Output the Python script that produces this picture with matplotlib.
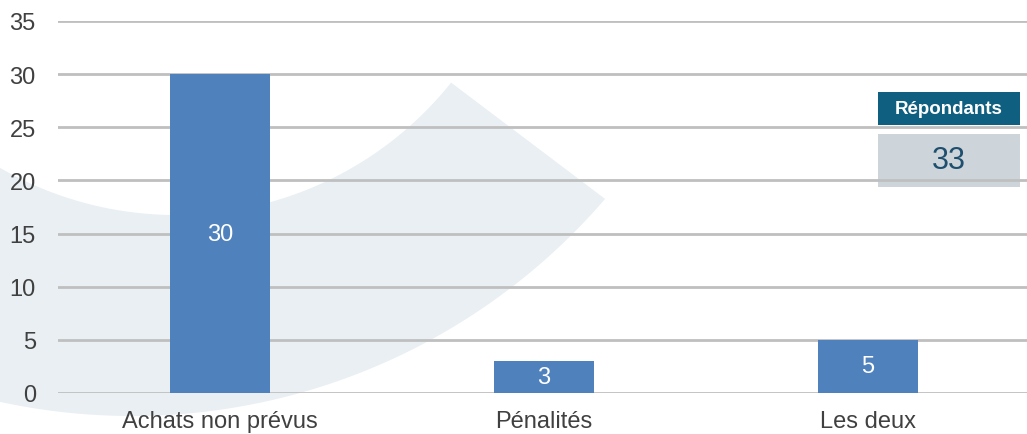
#!/usr/bin/env python3
import numpy as np
import matplotlib

matplotlib.use("Agg")
import matplotlib.pyplot as plt
from matplotlib.patches import Polygon, Rectangle
from matplotlib.transforms import IdentityTransform

CATEGORIES = ["Achats non prévus", "Pénalités", "Les deux"]
VALUES = [30, 3, 5]
Y_TICKS = [0, 5, 10, 15, 20, 25, 30, 35]
RESP_LABEL = "Répondants"
RESP_COUNT = "33"

W, H = 1027, 435
BAR_COLOR = "#4F81BD"
GRID_COLOR = "#BFBFBF"
TEXT_COLOR = "#404040"

plt.rcParams["font.family"] = ["Liberation Sans", "DejaVu Sans"]

fig = plt.figure(figsize=(W / 100, H / 100), dpi=100)
fig.patch.set_facecolor("white")


def arc(cx, cy, r, a0, a1, n=120):
    # arc in image pixel coords (y down), returned in display coords (y up)
    t = np.radians(np.linspace(a0, a1, n))
    return np.column_stack([cx + r * np.cos(t), H - (cy + r * np.sin(t))])


# light watermark swoosh behind the chart
outer = arc(132, -207, 624, 40.7, 135)
inner = arc(176, -136, 352, 135, 38.6)
swoosh = Polygon(np.vstack([outer, inner]), closed=True, facecolor="#E9EFF2",
                 edgecolor="none", transform=IdentityTransform(), zorder=-2)
fig.add_artist(swoosh)

# plot area runs a little past the right edge of the image
ax = fig.add_axes([58 / W, (H - 394) / H, 972 / W, (394 - 22) / H])
ax.set_facecolor("none")
ax.set_zorder(1)

x = list(range(len(CATEGORIES)))
bars = ax.bar(x, VALUES, width=0.31, color=BAR_COLOR, zorder=3)
for b, v in zip(bars, VALUES):
    ax.text(b.get_x() + b.get_width() / 2, v / 2, str(v), ha="center", va="center",
            color="white", fontsize=17, zorder=4)

ax.set_xlim(-0.5, len(CATEGORIES) - 0.5)
ax.set_ylim(0, 35)
ax.set_yticks(Y_TICKS)
ax.set_xticks(x)
ax.set_xticklabels(CATEGORIES)
ax.tick_params(axis="both", length=0, labelsize=17, labelcolor=TEXT_COLOR)
ax.tick_params(axis="y", pad=16)
ax.tick_params(axis="x", pad=12)
for s in ax.spines.values():
    s.set_visible(False)
ax.yaxis.grid(True, color=GRID_COLOR, linewidth=2.0, zorder=2)
ax.set_axisbelow(True)

# "Répondants" box, top right
header = Rectangle((878, H - 126), 142, 33, facecolor="#0F5F80", edgecolor="none",
                   transform=IdentityTransform(), zorder=-1)
body = Rectangle((878, H - 188), 142, 53, facecolor="#CDD4DA", edgecolor="none",
                 transform=IdentityTransform(), zorder=-1)
fig.add_artist(header)
fig.add_artist(body)
fig.text(949 / W, (H - 110) / H, RESP_LABEL, ha="center", va="center",
         color="white", fontsize=13.5, fontweight="bold")
fig.text(949 / W, (H - 161) / H, RESP_COUNT, ha="center", va="center",
         color="#1F4F6E", fontsize=22)

fig.savefig("out.png", dpi=100)
